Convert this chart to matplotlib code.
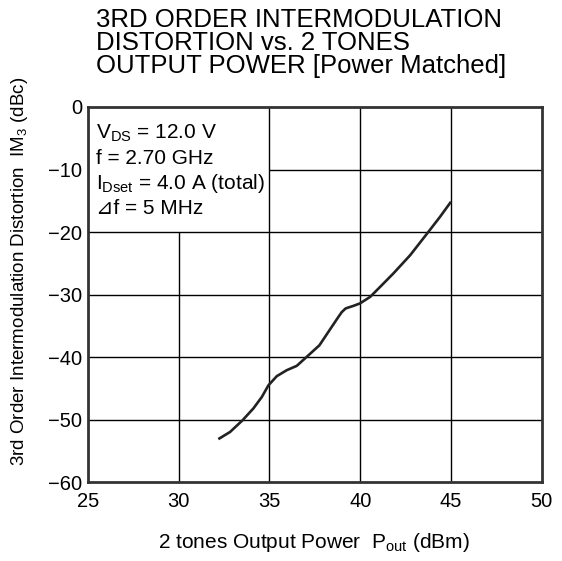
import matplotlib.pyplot as plt
import numpy as np

plt.rcParams['font.family'] = ['Liberation Sans', 'DejaVu Sans']
plt.rcParams['mathtext.fontset'] = 'custom'
plt.rcParams['mathtext.rm'] = 'Liberation Sans'
plt.rcParams['mathtext.it'] = 'Liberation Sans'
plt.rcParams['mathtext.default'] = 'regular'

# data
pout = [32.18, 32.83, 33.51, 34.11, 34.58, 34.94, 35.40, 35.95, 36.50, 37.05,
        37.75, 38.43, 38.80, 38.98, 39.20, 39.63, 39.99, 40.55, 41.10, 41.83,
        42.75, 43.76, 44.40, 45.0]
im3 = [-53.1, -51.95, -50.1, -48.2, -46.35, -44.5, -43.04, -42.08, -41.39, -39.95,
       -38.1, -35.15, -33.55, -32.8, -32.2, -31.79, -31.4, -30.35, -28.75, -26.6,
       -23.7, -19.95, -17.55, -15.15]

xticks = [25, 30, 35, 40, 45, 50]
yticks = [0, -10, -20, -30, -40, -50, -60]

title = "3RD ORDER INTERMODULATION\nDISTORTION vs. 2 TONES\nOUTPUT POWER [Power Matched]"
conditions = [r"V$_{DS}$ = 12.0 V",
              "f = 2.70 GHz",
              r"I$_{Dset}$ = 4.0 A (total)",
              "\u22bff = 5 MHz"]

fig = plt.figure(figsize=(5.62, 5.61), dpi=100)
ax = fig.add_axes([0.1566, 0.1403, 0.8073, 0.669])

# grid, leaving the corner free for the conditions box
ax.vlines(30, -60, -20, color='black', lw=1.0)
for x in [35, 40, 45]:
    ax.vlines(x, -60, 0, color='black', lw=1.0)
ax.hlines(-10, 35, 50, color='black', lw=1.0)
for y in [-20, -30, -40, -50]:
    ax.hlines(y, 25, 50, color='black', lw=1.0)

ax.plot(pout, im3, color='#222222', lw=1.9, solid_capstyle='butt',
        solid_joinstyle='round')

ax.set_xlim(25, 50)
ax.set_ylim(-60, 0)
ax.set_xticks(xticks)
ax.set_yticks(yticks)
ax.set_yticklabels(['0' if v == 0 else '\u2212%d' % -v for v in yticks])
ax.tick_params(axis='both', length=0, labelsize=14.5)
ax.tick_params(axis='x', pad=7)
ax.tick_params(axis='y', pad=4)
for s in ax.spines.values():
    s.set_linewidth(2.0)
    s.set_color('#333333')

for i, line in enumerate(conditions):
    ax.text(25.45, -5.1 - i * 4.0, line, fontsize=15, va='baseline', ha='left')

fig.text(96 / 562, 1 - 8 / 561, title, fontsize=18.5, ha='left', va='top',
         linespacing=0.96)
fig.text(20 / 562, 1 - 271 / 561,
         r"3rd Order Intermodulation Distortion  IM$_3$ (dBc)",
         rotation=90, fontsize=13.5, ha='center', va='center')
fig.text(314 / 562, 1 - 543 / 561,
         r"2 tones Output Power  P$_{out}$ (dBm)",
         fontsize=15, ha='center', va='center')

fig.savefig('out.png', dpi=100)
